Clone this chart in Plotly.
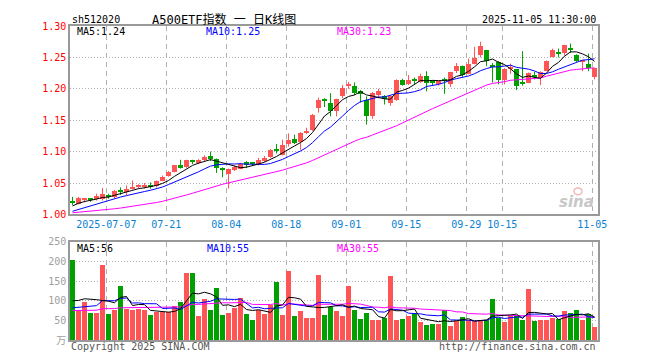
import plotly.graph_objects as go

# ---------------- data ----------------
dates = [
    "2025-06-27", "2025-06-30",
    "2025-07-01", "2025-07-02", "2025-07-03", "2025-07-04", "2025-07-07", "2025-07-08", "2025-07-09",
    "2025-07-10", "2025-07-11", "2025-07-14", "2025-07-15", "2025-07-16", "2025-07-17", "2025-07-18",
    "2025-07-21", "2025-07-22", "2025-07-23", "2025-07-24", "2025-07-25", "2025-07-28", "2025-07-29",
    "2025-07-30", "2025-07-31",
    "2025-08-01", "2025-08-04", "2025-08-05", "2025-08-06", "2025-08-07", "2025-08-08", "2025-08-11",
    "2025-08-12", "2025-08-13", "2025-08-14", "2025-08-15", "2025-08-18", "2025-08-19", "2025-08-20",
    "2025-08-21", "2025-08-22", "2025-08-25", "2025-08-26", "2025-08-27", "2025-08-28", "2025-08-29",
    "2025-09-01", "2025-09-02", "2025-09-03", "2025-09-04", "2025-09-05", "2025-09-08", "2025-09-09",
    "2025-09-10", "2025-09-11", "2025-09-12", "2025-09-15", "2025-09-16", "2025-09-17", "2025-09-18",
    "2025-09-19", "2025-09-22", "2025-09-23", "2025-09-24", "2025-09-25", "2025-09-26", "2025-09-29",
    "2025-09-30",
    "2025-10-09", "2025-10-10", "2025-10-13", "2025-10-14", "2025-10-15", "2025-10-16", "2025-10-17",
    "2025-10-20", "2025-10-21", "2025-10-22", "2025-10-23", "2025-10-24", "2025-10-27", "2025-10-28",
    "2025-10-29", "2025-10-30", "2025-10-31",
    "2025-11-03", "2025-11-04", "2025-11-05",
]

opens = [1.021, 1.017, 1.023, 1.024, 1.025, 1.025, 1.030, 1.028, 1.038, 1.035,
         1.041, 1.044, 1.044, 1.045, 1.045, 1.053, 1.061, 1.068, 1.079, 1.075,
         1.085, 1.083, 1.086, 1.093, 1.088, 1.073, 1.064, 1.070, 1.073, 1.083,
         1.082, 1.080, 1.085, 1.092, 1.103, 1.095, 1.112, 1.120, 1.115, 1.129,
         1.134, 1.170, 1.182, 1.178, 1.165, 1.189, 1.205, 1.205, 1.196, 1.182,
         1.157, 1.190, 1.188, 1.178, 1.182, 1.214, 1.208, 1.214, 1.211, 1.220,
         1.211, 1.208, 1.215, 1.208, 1.228, 1.237, 1.224, 1.240, 1.254, 1.262,
         1.237, 1.243, 1.214, 1.233, 1.231, 1.209, 1.210, 1.221, 1.217, 1.229,
         1.251, 1.257, 1.257, 1.265, 1.254, 1.244, 1.239, 1.219]
highs = [1.028, 1.028, 1.026, 1.026, 1.033, 1.042, 1.033, 1.039, 1.043, 1.046,
         1.054, 1.048, 1.050, 1.051, 1.054, 1.062, 1.069, 1.078, 1.087, 1.087,
         1.087, 1.088, 1.094, 1.100, 1.089, 1.075, 1.073, 1.078, 1.082, 1.085,
         1.083, 1.090, 1.093, 1.104, 1.112, 1.119, 1.129, 1.127, 1.131, 1.138,
         1.160, 1.186, 1.185, 1.193, 1.184, 1.206, 1.211, 1.210, 1.198, 1.188,
         1.195, 1.200, 1.190, 1.189, 1.215, 1.216, 1.222, 1.218, 1.224, 1.228,
         1.214, 1.212, 1.218, 1.227, 1.241, 1.237, 1.248, 1.267, 1.275, 1.262,
         1.241, 1.244, 1.233, 1.240, 1.231, 1.260, 1.226, 1.227, 1.228, 1.245,
         1.264, 1.264, 1.270, 1.272, 1.255, 1.246, 1.256, 1.233]
lows = [1.015, 1.016, 1.019, 1.020, 1.022, 1.022, 1.025, 1.025, 1.031, 1.030,
        1.040, 1.041, 1.041, 1.041, 1.043, 1.053, 1.060, 1.067, 1.073, 1.074,
        1.080, 1.080, 1.085, 1.085, 1.066, 1.059, 1.041, 1.069, 1.072, 1.074,
        1.077, 1.078, 1.083, 1.090, 1.097, 1.094, 1.108, 1.112, 1.103, 1.128,
        1.133, 1.162, 1.171, 1.156, 1.156, 1.185, 1.200, 1.190, 1.178, 1.143,
        1.152, 1.185, 1.175, 1.173, 1.181, 1.205, 1.206, 1.206, 1.209, 1.196,
        1.206, 1.205, 1.192, 1.203, 1.225, 1.219, 1.223, 1.239, 1.250, 1.236,
        1.210, 1.207, 1.207, 1.224, 1.198, 1.205, 1.209, 1.215, 1.206, 1.228,
        1.250, 1.250, 1.253, 1.257, 1.243, 1.228, 1.228, 1.215]
closes = [1.019, 1.026, 1.024, 1.023, 1.030, 1.032, 1.029, 1.038, 1.037, 1.041,
          1.044, 1.045, 1.045, 1.044, 1.053, 1.060, 1.068, 1.078, 1.074, 1.086,
          1.084, 1.086, 1.092, 1.088, 1.074, 1.071, 1.072, 1.075, 1.080, 1.078,
          1.081, 1.087, 1.090, 1.102, 1.101, 1.110, 1.118, 1.114, 1.129, 1.133,
          1.158, 1.182, 1.181, 1.165, 1.183, 1.202, 1.208, 1.193, 1.191, 1.157,
          1.193, 1.196, 1.183, 1.188, 1.214, 1.206, 1.214, 1.213, 1.220, 1.210,
          1.210, 1.212, 1.213, 1.227, 1.237, 1.222, 1.240, 1.249, 1.268, 1.244,
          1.236, 1.214, 1.231, 1.234, 1.204, 1.208, 1.225, 1.220, 1.227, 1.245,
          1.262, 1.256, 1.270, 1.261, 1.245, 1.246, 1.233, 1.233]
volumes = [203, 76, 97, 69, 69, 192, 67, 78, 137, 80,
           77, 80, 77, 63, 72, 72, 71, 86, 98, 171,
           171, 62, 106, 78, 133, 63, 68, 83, 108, 66,
           51, 78, 67, 90, 148, 63, 176, 61, 73, 56,
           56, 167, 63, 84, 73, 61, 138, 76, 53, 68,
           51, 51, 56, 163, 51, 53, 61, 66, 46, 38,
           41, 42, 78, 36, 48, 58, 51, 48, 48, 51,
           106, 56, 46, 61, 61, 51, 131, 48, 51, 51,
           56, 53, 73, 68, 76, 51, 66, 33]

# history before the first visible day (only feeds the moving averages)
pre_close = [1.003, 1.002, 1.004, 1.001, 0.999, 1.000, 1.002, 1.003, 1.001, 1.000,
             0.998, 1.001, 1.003, 1.004, 1.002, 1.000, 0.999, 1.001, 1.002, 1.003,
             0.998, 0.995, 0.994, 0.997, 0.9985,
             1.005, 1.010, 1.015, 1.0185]
pre_vol = [70, 75, 68, 72, 74, 69, 71, 73, 70, 72, 75, 68, 70, 74, 71, 69, 73, 72, 70, 74,
           62, 66, 63, 65, 64,
           72, 76, 73, 76]

tick_dates = ["2025-07-07", "2025-07-21", "2025-08-04", "2025-08-18", "2025-09-01",
              "2025-09-15", "2025-09-29", "2025-10-15", "2025-11-05"]
tick_text = ["2025-07-07", "07-21", "08-04", "08-18", "09-01", "09-15", "09-29", "10-15", "11-05"]
price_ticks = [1.00, 1.05, 1.10, 1.15, 1.20, 1.25, 1.30]
vol_ticks = [0, 50, 100, 150, 200, 250]
vol_tick_text = ["万", "50", "100", "150", "200", "250"]

# ---------------- helpers ----------------
def moving_avg(values, prior, n):
    full = list(prior) + list(values)
    k = len(prior)
    return [sum(full[k + i - n + 1:k + i + 1]) / n for i in range(len(values))]

RED = "#ff5555"
GREEN = "#00a000"
MONO = "DejaVu Sans Mono, Liberation Mono, monospace"
CJK = "DejaVu Sans Mono, Noto Sans CJK SC, monospace"

idx = list(range(len(dates)))
up = [c >= o for o, c in zip(opens, closes)]

fig = go.Figure()

# wicks
for flag, col in ((True, RED), (False, GREEN)):
    wx, wy = [], []
    for i in idx:
        if up[i] == flag:
            wx += [i, i, None]
            wy += [lows[i], highs[i], None]
    fig.add_trace(go.Scatter(x=wx, y=wy, mode="lines", line=dict(color=col, width=1),
                             hoverinfo="skip", showlegend=False, xaxis="x", yaxis="y"))

# bodies
MIN_BODY = 0.0016
for flag, col in ((True, RED), (False, GREEN)):
    bx = [i for i in idx if up[i] == flag]
    base = [min(opens[i], closes[i]) for i in bx]
    hgt = [max(abs(closes[i] - opens[i]), MIN_BODY) for i in bx]
    fig.add_trace(go.Bar(x=bx, y=hgt, base=base, width=0.8, marker=dict(color=col, line=dict(width=0)),
                         showlegend=False, xaxis="x", yaxis="y"))

# price moving averages
for n, col in ((30, "#ff00ff"), (10, "#0000ff"), (5, "#000000")):
    fig.add_trace(go.Scatter(x=idx, y=moving_avg(closes, pre_close, n), mode="lines",
                             line=dict(color=col, width=1), showlegend=False, xaxis="x", yaxis="y"))

# volume bars
fig.add_trace(go.Bar(x=idx, y=volumes, width=0.8,
                     marker=dict(color=[RED if u else GREEN for u in up], line=dict(width=0)),
                     showlegend=False, xaxis="x2", yaxis="y2"))
for n, col in ((30, "#ff00ff"), (10, "#0000ff"), (5, "#000000")):
    fig.add_trace(go.Scatter(x=idx, y=moving_avg(volumes, pre_vol, n), mode="lines",
                             line=dict(color=col, width=1), showlegend=False, xaxis="x2", yaxis="y2"))

# ---------------- layout ----------------
# page body keeps its default 8px margin, so the figure is 8px smaller and margins shifted
tickvals = [dates.index(d) - 0.37 for d in tick_dates]
xr = [-0.42, len(dates) - 0.42]
grid_x = dict(showgrid=True, gridcolor="#b0b0b0", griddash="5px,4px", gridwidth=1,
              zeroline=False, showline=True, mirror=True, linecolor="#999999", linewidth=1.5,
              ticks="", range=xr, tickvals=tickvals)

fig.update_layout(
    width=652, height=352,
    margin=dict(l=62, r=62, t=12, b=20),
    paper_bgcolor="white", plot_bgcolor="white",
    barmode="overlay", bargap=0,
    showlegend=False,
    xaxis=dict(domain=[0, 1], anchor="y", ticktext=tick_text,
               tickfont=dict(family=MONO, size=10, color="#0a82d2"), **grid_x),
    xaxis2=dict(domain=[0, 1], anchor="y2", showticklabels=False, matches="x", **grid_x),
    yaxis=dict(domain=[0.4, 1], range=[1.0, 1.3], tickvals=price_ticks,
               ticktext=[f"{v:.2f}" for v in price_ticks],
               tickfont=dict(family=MONO, size=10, color="#ff0000"),
               showgrid=True, gridcolor="#b0b0b0", griddash="1px,2px", zeroline=False,
               showline=True, mirror=True, linecolor="#999999", linewidth=1.5, ticks=""),
    yaxis2=dict(domain=[0, 0.3125], range=[0, 250], tickvals=vol_ticks, ticktext=vol_tick_text,
                tickfont=dict(family=CJK, size=10, color="#a0a0a0"),
                showgrid=True, gridcolor="#b0b0b0", griddash="1px,2px", zeroline=False,
                showline=True, mirror=True, linecolor="#999999", linewidth=1.5, ticks=""),
)

# page-pixel helpers (plot area spans page x 70..598, page y 20..340)
def px_x(px):
    return (px - 70) / 528.0

def px_y(py):
    return (340 - py) / 320.0

ma_p = [moving_avg(closes, pre_close, n)[-1] for n in (5, 10, 30)]
ann = [
    ("sh512020", 70, 13.5, "left", "#000000", MONO, 10),
    ("A500ETF指数 一 日K线图", 223.5, 13.5, "center", "#000000", CJK, 12),
    ("2025-11-05 11:30:00", 597.5, 13.5, "right", "#000000", MONO, 10),
    (f"MA5:{ma_p[0]:.2f}", 74.5, 26, "left", "#000000", MONO, 10),
    (f"MA10:{ma_p[1]:.2f}", 204.3, 26, "left", "#0000ff", MONO, 10),
    (f"MA30:{ma_p[2]:.2f}", 334.7, 26, "left", "#ff00ff", MONO, 10),
    ("MA5:56", 74.5, 246.7, "left", "#000000", MONO, 10),
    ("MA10:55", 205, 246.7, "left", "#0000ff", MONO, 10),
    ("MA30:55", 335, 246.7, "left", "#ff00ff", MONO, 10),
    ("Copyright 2025 SINA.COM", 69, 347, "left", "#555555", MONO, 10),
    ("http://finance.sina.com.cn", 597.5, 347, "right", "#555555", MONO, 10),
]
for text, x, y, xa, col, fam, size in ann:
    fig.add_annotation(text=text, x=px_x(x), y=px_y(y), xref="paper", yref="paper",
                       xanchor=xa, yanchor="middle", showarrow=False,
                       font=dict(family=fam, size=size, color=col))

# sina watermark
fig.add_annotation(text="<b><i>sina</i></b>", x=px_x(596), y=px_y(199), xref="paper", yref="paper",
                   xanchor="right", yanchor="middle", showarrow=False,
                   font=dict(family="DejaVu Sans", size=15, color="#c8c8c8"))
fig.add_shape(type="circle", xref="paper", yref="paper",
              x0=px_x(574), x1=px_x(582), y0=px_y(192), y1=px_y(185),
              line=dict(color="#f2b8b8", width=1.5))

fig.write_html("out.html")
